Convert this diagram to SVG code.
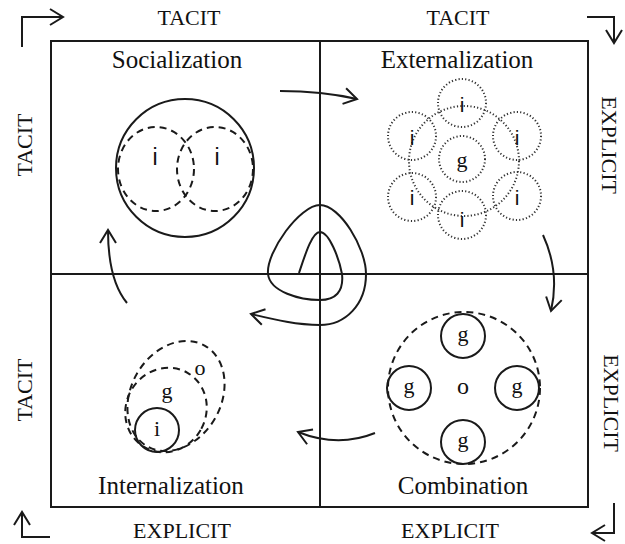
<svg xmlns="http://www.w3.org/2000/svg" width="625" height="544" viewBox="0 0 625 544">
<defs>
<style>
.ln{fill:none;stroke:#1a1a1a;stroke-width:2}
.sol{fill:none;stroke:#1a1a1a;stroke-width:2}
.dsh{fill:none;stroke:#1a1a1a;stroke-width:2;stroke-dasharray:7 5}
.dot{fill:none;stroke:#333;stroke-width:2;stroke-dasharray:1.2 2.2}
.ax{font-family:"Liberation Serif","Times New Roman",serif;font-size:22px;fill:#111}
.ttl{font-family:"Liberation Serif","Times New Roman",serif;font-size:25px;fill:#111}
.lt{font-family:"Liberation Serif","Times New Roman",serif;font-size:22px;fill:#111;text-anchor:middle}
.ls{font-family:"Liberation Sans",Arial,sans-serif;font-size:21px;fill:#111;text-anchor:middle}
</style>
<marker id="ah" viewBox="0 0 20 20" refX="17" refY="10" markerWidth="20" markerHeight="20" markerUnits="userSpaceOnUse" orient="auto">
<path d="M4,2 L17,10 L4,18" fill="none" stroke="#1a1a1a" stroke-width="2"/>
</marker>
</defs>
<rect width="625" height="544" fill="#fff"/>

<g id="frame">
<rect x="51" y="41" width="537" height="466" class="ln"/>
<line x1="320" y1="41" x2="320" y2="507" class="ln"/>
<line x1="51" y1="274" x2="588" y2="274" class="ln"/>
</g>

<g id="axis-labels">
<text class="ax" x="189" y="25" text-anchor="middle">TACIT</text>
<text class="ax" x="458" y="25" text-anchor="middle">TACIT</text>
<text class="ax" x="182" y="538" text-anchor="middle">EXPLICIT</text>
<text class="ax" x="450" y="538" text-anchor="middle">EXPLICIT</text>
<text class="ax" text-anchor="middle" transform="translate(32,145) rotate(-90)">TACIT</text>
<text class="ax" text-anchor="middle" transform="translate(32,390) rotate(-90)">TACIT</text>
<text class="ax" text-anchor="middle" transform="translate(602,145) rotate(90)">EXPLICIT</text>
<text class="ax" text-anchor="middle" transform="translate(604,403) rotate(90)">EXPLICIT</text>
</g>

<g id="socialization">
<text class="ttl" x="177" y="68" text-anchor="middle">Socialization</text>
<circle cx="185" cy="168" r="69" class="sol"/>
<ellipse cx="156" cy="169" rx="38" ry="42" class="dsh"/>
<ellipse cx="215" cy="169" rx="38" ry="42" class="dsh"/>
<text class="ls" x="155" y="165" style="font-size:23px">i</text>
<text class="ls" x="217" y="165" style="font-size:23px">i</text>
</g>

<g id="externalization">
<text class="ttl" x="457" y="68" text-anchor="middle">Externalization</text>
<circle cx="464" cy="161" r="55" class="dot"/>
<circle cx="462" cy="103" r="24" class="dot"/>
<circle cx="412" cy="136" r="24" class="dot"/>
<circle cx="517" cy="136" r="24" class="dot"/>
<circle cx="462" cy="159" r="23" class="dot"/>
<circle cx="412" cy="197" r="24" class="dot"/>
<circle cx="517" cy="196" r="24" class="dot"/>
<circle cx="462" cy="215" r="24" class="dot"/>
<text class="ls" x="462" y="112">i</text>
<text class="ls" x="412" y="145">i</text>
<text class="ls" x="517" y="145">i</text>
<text class="lt" x="462" y="167">g</text>
<text class="ls" x="412" y="205">i</text>
<text class="ls" x="517" y="205">i</text>
<text class="ls" x="462" y="227">i</text>
</g>

<g id="combination">
<text class="ttl" x="463" y="494" text-anchor="middle">Combination</text>
<circle cx="464" cy="388" r="76" class="dsh"/>
<circle cx="463" cy="336" r="22" class="sol"/>
<circle cx="409" cy="388" r="22" class="sol"/>
<circle cx="517" cy="388" r="22" class="sol"/>
<circle cx="463" cy="442" r="22" class="sol"/>
<text class="lt" x="463" y="341">g</text>
<text class="lt" x="409" y="393">g</text>
<text class="lt" x="517" y="393">g</text>
<text class="lt" x="463" y="447">g</text>
<text class="lt" x="463" y="394" style="font-size:24px">o</text>
</g>

<g id="internalization">
<text class="ttl" x="171" y="494" text-anchor="middle">Internalization</text>
<ellipse cx="176" cy="396" rx="45" ry="58" transform="rotate(30 176 396)" class="dsh"/>
<ellipse cx="166" cy="410" rx="40" ry="43" transform="rotate(30 166 410)" class="dsh"/>
<circle cx="157" cy="430" r="22" class="sol"/>
<text class="lt" x="200" y="375">o</text>
<text class="lt" x="167" y="398">g</text>
<text class="lt" x="157" y="436">i</text>
</g>

<g id="connectors">
<path d="M22,47 V17 H63" class="ln" marker-end="url(#ah)"/>
<path d="M587,17 H614 V43" class="ln" marker-end="url(#ah)"/>
<path d="M614,503 V533 H592" class="ln" marker-end="url(#ah)"/>
<path d="M50,537 H22 V512" class="ln" marker-end="url(#ah)"/>
<path d="M280,91 Q322,91 357,99" class="ln" marker-end="url(#ah)"/>
<path d="M543,235 Q560,272 551,311" class="ln" marker-end="url(#ah)"/>
<path d="M375,433 Q338,448 298,432" class="ln" marker-end="url(#ah)"/>
<path d="M127,303 Q108,280 108,230" class="ln" marker-end="url(#ah)"/>
<path d="M299,273 C305,255 312,232 320,232 C329,232 339,258 342,274 C344,292 335,300 320,300 C300,300 270,292 268,274 C266,252 300,205 320,205 C340,205 366,248 366,274 C366,305 345,325 320,325 C295,325 272,319 251,314" class="ln" marker-end="url(#ah)"/>
</g>
</svg>
